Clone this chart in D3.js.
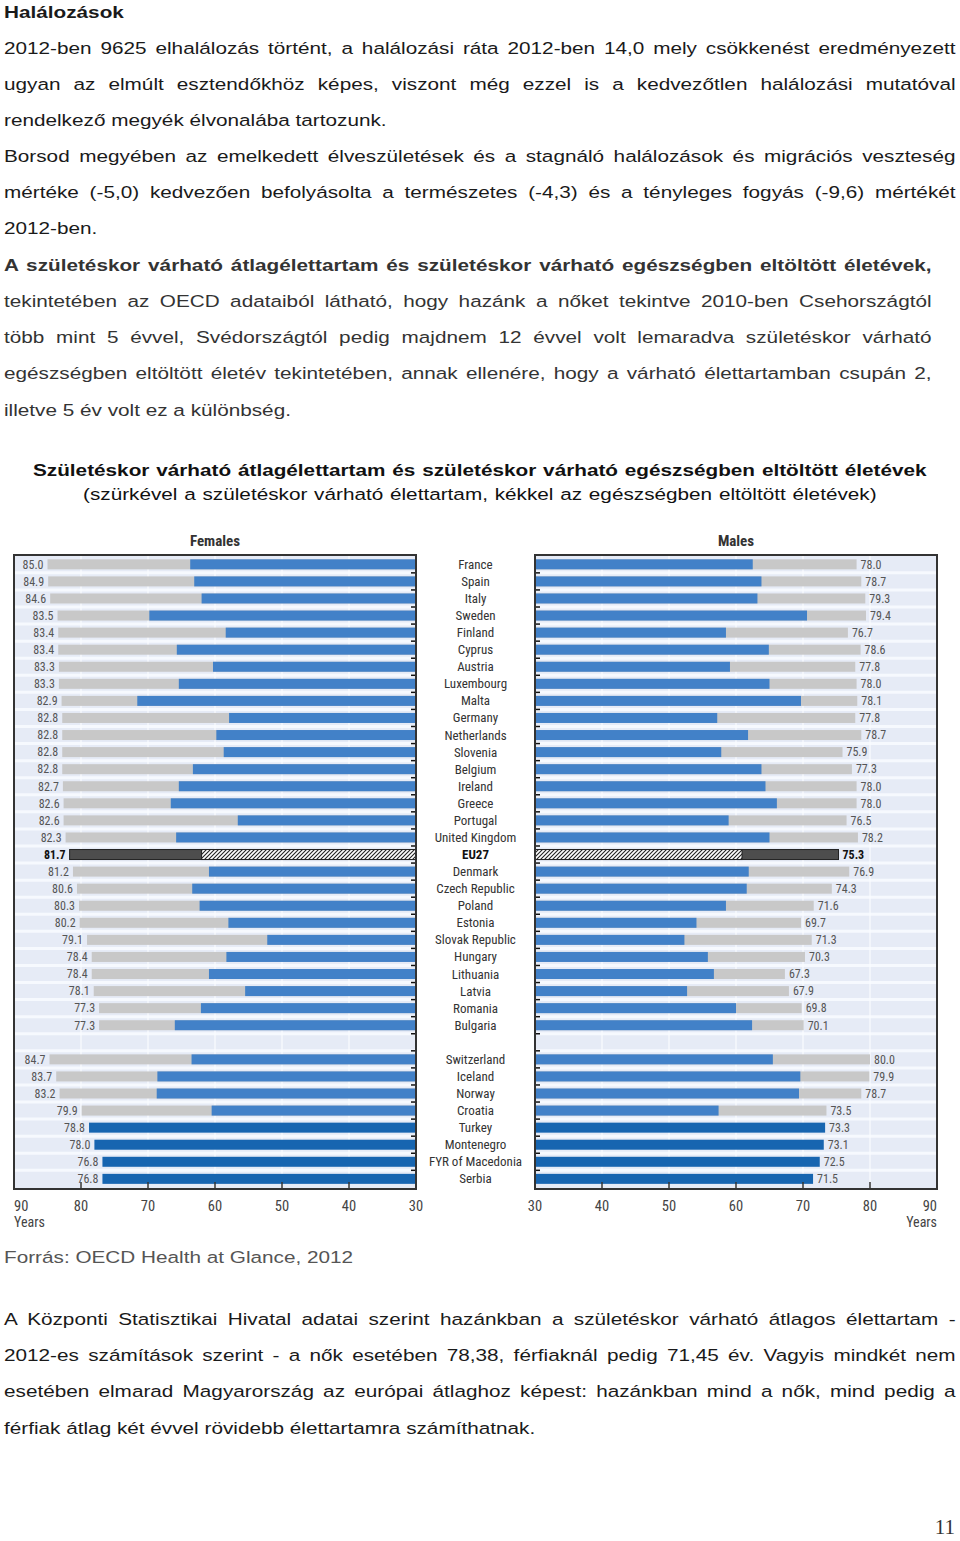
<!DOCTYPE html>
<html><head><meta charset="utf-8">
<script src="https://cdn.jsdelivr.net/npm/d3@7"></script>
<style>body{margin:0;background:#fff}svg{display:block}</style>
</head><body><svg id="c" width="960" height="1541"></svg>
<script>
// ---------- DATA ----------
const countries = ["France","Spain","Italy","Sweden","Finland","Cyprus","Austria","Luxembourg","Malta","Germany","Netherlands","Slovenia","Belgium","Ireland","Greece","Portugal","United Kingdom","EU27","Denmark","Czech Republic","Poland","Estonia","Slovak Republic","Hungary","Lithuania","Latvia","Romania","Bulgaria","Switzerland","Iceland","Norway","Croatia","Turkey","Montenegro","FYR of Macedonia","Serbia"];
const gapAfter = "Bulgaria";
const femaleLE  = [85.0,84.9,84.6,83.5,83.4,83.4,83.3,83.3,82.9,82.8,82.8,82.8,82.8,82.7,82.6,82.6,82.3,81.7,81.2,80.6,80.3,80.2,79.1,78.4,78.4,78.1,77.3,77.3,84.7,83.7,83.2,79.9,78.8,78.0,76.8,76.8];
const femaleHLY = [63.7,63.1,62.0,69.8,58.4,65.7,60.3,65.4,71.6,57.9,59.8,58.7,63.3,65.4,66.6,56.6,65.8,62.0,60.9,63.4,62.3,58.0,52.2,58.3,60.9,55.5,62.1,66.0,63.5,68.6,68.7,60.5,null,null,null,null];
const maleLE    = [78.0,78.7,79.3,79.4,76.7,78.6,77.8,78.0,78.1,77.8,78.7,75.9,77.3,78.0,78.0,76.5,78.2,75.3,76.9,74.3,71.6,69.7,71.3,70.3,67.3,67.9,69.8,70.1,80.0,79.9,78.7,73.5,73.3,73.1,72.5,71.5];
const maleHLY   = [62.5,63.8,63.2,70.6,58.5,64.9,59.1,65.0,69.7,57.2,61.8,57.8,63.8,64.4,66.1,58.9,65.0,60.9,61.9,61.6,58.5,54.1,52.3,55.8,56.7,52.7,60.0,62.4,65.5,69.6,69.4,57.4,null,null,null,null];
const axisTicks = [90,80,70,60,50,40,30];
const panelTitles = ["Females","Males"];
const axisUnit = "Years";

// ---------- TEXT ----------
const heading = "Halálozások";
const para1 = ["2012-ben 9625 elhalálozás történt, a halálozási ráta 2012-ben 14,0 mely csökkenést eredményezett",
 "ugyan az elmúlt esztendőkhöz képes, viszont még ezzel is a kedvezőtlen halálozási mutatóval",
 "rendelkező megyék élvonalába tartozunk."];
const para2 = ["Borsod megyében az emelkedett élveszületések és a stagnáló halálozások és migrációs veszteség",
 "mértéke (-5,0) kedvezően befolyásolta a természetes (-4,3) és a tényleges fogyás (-9,6) mértékét",
 "2012-ben."];
const para3bold = "A születéskor várható átlagélettartam és születéskor várható egészségben eltöltött életévek,";
const para3 = ["tekintetében az OECD adataiból látható, hogy hazánk a nőket tekintve 2010-ben Csehországtól",
 "több mint 5 évvel, Svédországtól pedig majdnem 12 évvel volt lemaradva születéskor várható",
 "egészségben eltöltött életév tekintetében, annak ellenére, hogy a várható élettartamban csupán 2,",
 "illetve 5 év volt ez a különbség."];
const chartTitle = "Születéskor várható átlagélettartam és születéskor várható egészségben eltöltött életévek";
const chartSub = "(szürkével a születéskor várható élettartam, kékkel az egészségben eltöltött életévek)";
const source = "Forrás: OECD Health at Glance, 2012";
const para4 = ["A Központi Statisztikai Hivatal adatai szerint hazánkban a születéskor várható átlagos élettartam -",
 "2012-es számítások szerint - a nők esetében 78,38, férfiaknál pedig 71,45 év. Vagyis mindkét nem",
 "esetében elmarad Magyarország az európai átlaghoz képest: hazánkban mind a nők, mind pedig a",
 "férfiak átlag két évvel rövidebb élettartamra számíthatnak."];
const pageNo = "11";

// ---------- RENDER ----------
const svg = d3.select("#c");
svg.append("rect").attr("width",960).attr("height",1541).attr("fill","#fff");
const SX = 1.22, FS = 17;
const BODY_FONT = "'Liberation Sans', Arial, sans-serif";
const NARROW = "'Liberation Sans Narrow', 'Arial Narrow', 'Roboto Condensed', 'DejaVu Sans Condensed', sans-serif";

function textLine(str, o) {
  const sx = o.sx || SX, size = o.size || FS;
  const g = svg.append("g");
  const t = g.append("text").attr("font-family", o.font || BODY_FONT).attr("font-size", size)
    .attr("font-weight", o.bold ? "bold" : "normal").attr("fill", o.color || "#1a1a1a").text(str);
  const w = t.node().getComputedTextLength();
  const n = (str.match(/ /g) || []).length;
  let total = w * sx;
  if (o.width && n > 0) { t.attr("word-spacing", (o.width / sx - w) / n); total = o.width; }
  let x0 = o.x;
  if (o.anchor === "middle") x0 = o.x - total / 2;
  else if (o.anchor === "end") x0 = o.x - total;
  g.attr("transform", `translate(${x0},${o.y}) scale(${sx},1)`);
}

textLine(heading, {x:4, y:18, bold:true});
const LH = 36.2;
para1.forEach((s,i)=>textLine(s,{x:4,y:54+i*LH,width:i<2?952:null}));
para2.forEach((s,i)=>textLine(s,{x:4,y:162+i*LH,width:i<2?952:null}));
textLine(para3bold,{x:4,y:271,width:928,bold:true,color:"#333"});
para3.forEach((s,i)=>textLine(s,{x:4,y:307+i*LH,width:i<3?928:null,color:"#333"}));
textLine(chartTitle,{x:480,y:476,width:894,anchor:"middle",bold:true,color:"#111"});
textLine(chartSub,{x:480,y:500,width:794,anchor:"middle",color:"#111"});
textLine(source,{x:4,y:1263,color:"#555"});
para4.forEach((s,i)=>textLine(s,{x:4,y:1325+i*LH,width:i<3?952:null}));
svg.append("text").attr("x",955).attr("y",1534).attr("text-anchor","end")
  .attr("font-family","'Liberation Serif', serif").attr("font-size",21).attr("fill","#333").text(pageNo);

// ---------- CHART ----------
const slots = [];
countries.forEach(c=>{ slots.push(c); if (c===gapAfter) slots.push("__gap"); });
const yS = d3.scaleBand().domain(slots).range([555.8, 555.8 + slots.length*17.07]).padding(0);
const panelTop = 555, panelBottom = 1189;
const xF = d3.scaleLinear().domain([90,30]).range([14,416]);
const xM = d3.scaleLinear().domain([30,90]).range([535,937]);
const barH = 10;

const defs = svg.append("defs");
const pat = defs.append("pattern").attr("id","hatch").attr("patternUnits","userSpaceOnUse").attr("width",4).attr("height",4);
pat.append("rect").attr("width",4).attr("height",4).attr("fill","#fff");
pat.append("path").attr("d","M-1,1 l2,-2 M0,4 l4,-4 M3,5 l2,-2").attr("stroke","#222").attr("stroke-width",1.1);

const rows = countries.map((c,i)=>({c, fLE:femaleLE[i], fH:femaleHLY[i], mLE:maleLE[i], mH:maleHLY[i]}));

function panel(x, side) {
  const [x0,x1] = x.range();
  const L = Math.min(x0,x1), R = Math.max(x0,x1);
  const g = svg.append("g");
  g.append("rect").attr("x",L).attr("y",panelTop).attr("width",R-L).attr("height",panelBottom-panelTop).attr("fill","#e6ebf6");
  const bounds = slots.slice(1).map(s=>yS(s));
  g.selectAll(".sep").data(bounds).join("line").attr("x1",L).attr("x2",R).attr("y1",d=>d).attr("y2",d=>d)
    .attr("stroke","#f6f9fe").attr("stroke-width",3);
  g.selectAll(".vg").data([40,50,60,70,80]).join("line").attr("x1",d=>x(d)).attr("x2",d=>x(d))
    .attr("y1",panelTop).attr("y2",panelBottom).attr("stroke","#fafcff").attr("stroke-width",1.2);
  const key = side==="F" ? ["fLE","fH"] : ["mLE","mH"];
  rows.forEach(r=>{
    const le = r[key[0]], h = r[key[1]];
    const yc = yS(r.c) + yS.bandwidth()/2;
    const isEU = r.c==="EU27";
    const leCol = isEU ? "#4d4d4d" : (h==null ? "#1765b0" : "#c8c8c8");
    g.append("rect").attr("x",Math.min(x(30),x(le))).attr("y",yc-barH/2).attr("width",Math.abs(x(le)-x(30))).attr("height",barH)
      .attr("fill",leCol).attr("stroke",isEU?"#222":"none").attr("stroke-width",1);
    if (h!=null) {
      g.append("rect").attr("x",Math.min(x(30),x(h))).attr("y",yc-barH/2).attr("width",Math.abs(x(h)-x(30))).attr("height",barH)
        .attr("fill", isEU ? "url(#hatch)" : "#4281c8").attr("stroke",isEU?"#222":"none").attr("stroke-width",1);
    }
    const lx = side==="F" ? x(le)-4 : x(le)+4;
    g.append("text").attr("x",lx).attr("y",yc+4.3).attr("text-anchor",side==="F"?"end":"start")
      .attr("font-family",NARROW).attr("font-size",12).attr("font-weight",isEU?"bold":"normal")
      .attr("fill",isEU?"#111":"#555").text(d3.format(".1f")(le));
  });
  const ex = x(30), dir = side==="F" ? -1 : 1;
  g.selectAll(".et").data(bounds).join("line").attr("x1",ex).attr("x2",ex+dir*5).attr("y1",d=>d).attr("y2",d=>d)
    .attr("stroke","#111").attr("stroke-width",1.5);
  g.selectAll(".bt").data([80,70,60,50,40]).join("line").attr("x1",d=>x(d)).attr("x2",d=>x(d))
    .attr("y1",panelBottom-7).attr("y2",panelBottom).attr("stroke","#333").attr("stroke-width",1.5);
  g.append("rect").attr("x",L).attr("y",panelTop).attr("width",R-L).attr("height",panelBottom-panelTop)
    .attr("fill","none").attr("stroke","#333").attr("stroke-width",2);
  axisTicks.forEach(t=>{
    let anchor = "middle";
    if (t===90) anchor = side==="F" ? "start" : "end";
    g.append("text").attr("x",x(t)).attr("y",1211).attr("text-anchor",anchor)
      .attr("font-family",NARROW).attr("font-size",14.5).attr("fill","#444").text(t);
  });
  g.append("text").attr("x",x(90)).attr("y",1227).attr("text-anchor",side==="F"?"start":"end")
    .attr("font-family",NARROW).attr("font-size",14).attr("fill","#444").text(axisUnit);
  g.append("text").attr("x",(L+R)/2).attr("y",546).attr("text-anchor","middle")
    .attr("font-family",NARROW).attr("font-size",15).attr("font-weight","bold").attr("fill","#333")
    .text(side==="F"?panelTitles[0]:panelTitles[1]);
}
panel(xF,"F");
panel(xM,"M");

svg.selectAll(".cl").data(countries).join("text")
  .attr("x",475.5).attr("y",d=>yS(d)+yS.bandwidth()/2+4.5).attr("text-anchor","middle")
  .attr("font-family",NARROW).attr("font-size",13).attr("font-weight",d=>d==="EU27"?"bold":"normal")
  .attr("fill",d=>d==="EU27"?"#111":"#333").text(d=>d);
</script></body></html>
